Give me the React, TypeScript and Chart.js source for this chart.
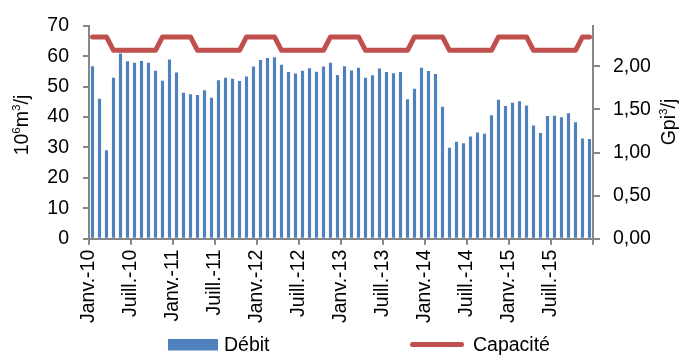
import { useEffect, useRef } from 'react';
import { Chart, registerables } from 'chart.js';

Chart.register(...registerables);

// Monthly data, Janv. 2010 – Déc. 2015 (10^6 m³/j)
const debit2010 = [56.7, 46.0, 29.1, 52.9, 60.9, 58.3, 57.8, 58.4, 57.8, 55.2, 51.9, 58.9];
const debit2011 = [54.6, 48.0, 47.5, 47.2, 48.8, 46.3, 52.1, 52.9, 52.6, 51.8, 53.3, 56.6];
const debit2012 = [58.7, 59.4, 59.6, 57.2, 54.8, 54.3, 55.2, 56.0, 54.9, 56.6, 57.8, 53.8];
const debit2013 = [56.7, 55.3, 56.2, 52.9, 53.7, 55.9, 54.8, 54.4, 54.8, 45.8, 49.3, 56.2];
const debit2014 = [55.1, 54.1, 43.4, 29.9, 31.9, 31.4, 33.6, 34.9, 34.5, 40.6, 45.7, 43.6];
const debit2015 = [44.7, 45.2, 43.8, 37.2, 34.7, 40.3, 40.4, 39.9, 41.2, 38.3, 32.9, 32.8];
const debit = [...debit2010, ...debit2011, ...debit2012, ...debit2013, ...debit2014, ...debit2015];

const capaciteAnnuelle = [66.3, 66.3, 66.3, 61.9, 61.9, 61.9, 61.9, 61.9, 61.9, 61.9, 66.3, 66.3];
const capacite = [
  ...capaciteAnnuelle, ...capaciteAnnuelle, ...capaciteAnnuelle,
  ...capaciteAnnuelle, ...capaciteAnnuelle, ...capaciteAnnuelle,
];

const tickLabels = [
  'Janv.-10', 'Juill.-10', 'Janv.-11', 'Juill.-11', 'Janv.-12', 'Juill.-12',
  'Janv.-13', 'Juill.-13', 'Janv.-14', 'Juill.-14', 'Janv.-15', 'Juill.-15',
];

const leftMax = 70;
const m3PerFt3 = 28.3168; // 10^6 m³ per Gpi³
const rightMax = leftMax / m3PerFt3;

const FONT_FAMILY = "'Liberation Sans', Arial, sans-serif";
const FONT_SIZE = 19.5;
const AXIS_GREY = '#878787';
const BLUE = '#4F81BD';
const RED = '#C0504D';

type Part = { t: string; sup?: boolean };

function drawRich(ctx: CanvasRenderingContext2D, parts: Part[], cx: number, cy: number) {
  const supSize = FONT_SIZE * 0.6;
  let total = 0;
  for (const p of parts) {
    ctx.font = `${p.sup ? supSize : FONT_SIZE}px ${FONT_FAMILY}`;
    total += ctx.measureText(p.t).width;
  }
  ctx.save();
  ctx.translate(cx, cy);
  ctx.rotate(-Math.PI / 2);
  ctx.textBaseline = 'alphabetic';
  ctx.textAlign = 'left';
  ctx.fillStyle = '#000';
  let x = -total / 2;
  for (const p of parts) {
    ctx.font = `${p.sup ? supSize : FONT_SIZE}px ${FONT_FAMILY}`;
    ctx.fillText(p.t, x, p.sup ? -FONT_SIZE * 0.42 : 0);
    x += ctx.measureText(p.t).width;
  }
  ctx.restore();
}

const decorPlugin = {
  id: 'decor',
  afterDraw(chart: any) {
    const ctx: CanvasRenderingContext2D = chart.ctx;
    // axis titles
    drawRich(ctx, [{ t: '10' }, { t: '6', sup: true }, { t: 'm' }, { t: '3', sup: true }, { t: '/j' }], 28, 125);
    drawRich(ctx, [{ t: 'Gpi' }, { t: '3', sup: true }, { t: '/j' }], 675, 122);

    // legend
    ctx.save();
    ctx.fillStyle = BLUE;
    ctx.fillRect(168, 339, 50, 11.5);
    ctx.strokeStyle = RED;
    ctx.lineWidth = 5;
    ctx.lineCap = 'round';
    ctx.beginPath();
    ctx.moveTo(412.5, 344.5);
    ctx.lineTo(461.5, 344.5);
    ctx.stroke();
    ctx.fillStyle = '#000';
    ctx.font = `${FONT_SIZE}px ${FONT_FAMILY}`;
    ctx.textAlign = 'left';
    ctx.textBaseline = 'alphabetic';
    ctx.fillText('Débit', 224, 351);
    ctx.fillText('Capacité', 473, 351);
    ctx.restore();
  },
};

export default function App() {
  const ref = useRef<HTMLCanvasElement | null>(null);

  useEffect(() => {
    document.body.style.margin = '0';
    if (!ref.current) return;
    const font = { family: FONT_FAMILY, size: FONT_SIZE };
    const chart = new Chart(ref.current, {
      type: 'bar',
      data: {
        datasets: [
          {
            type: 'line',
            label: 'Capacité',
            data: capacite.map((v, i) => ({ x: i + 0.5, y: v })),
            borderColor: RED,
            backgroundColor: RED,
            borderWidth: 5,
            borderCapStyle: 'round',
            borderJoinStyle: 'round',
            pointRadius: 0,
            tension: 0,
            yAxisID: 'y',
            order: 0,
          } as any,
          {
            type: 'bar',
            label: 'Débit',
            data: debit.map((v, i) => ({ x: i + 0.5, y: v })),
            backgroundColor: BLUE,
            borderWidth: 0,
            barPercentage: 0.45,
            categoryPercentage: 1,
            yAxisID: 'y',
            order: 1,
          } as any,
        ],
      },
      options: {
        responsive: false,
        animation: false,
        layout: { padding: { top: 14, bottom: 31, left: 0, right: 0 } },
        plugins: { legend: { display: false }, tooltip: { enabled: false } },
        scales: {
          x: {
            type: 'linear',
            min: 0,
            max: 72,
            offset: false,
            afterFit: (s: any) => { s.height = 88.3; },
            ticks: {
              stepSize: 6,
              autoSkip: false,
              minRotation: 90,
              maxRotation: 90,
              padding: 5,
              color: '#000',
              font,
              callback: (v: any) => {
                const idx = Math.round(Number(v) / 6);
                return idx < tickLabels.length ? tickLabels[idx] : '';
              },
            },
            grid: { drawOnChartArea: false, offset: false, tickLength: 6, color: AXIS_GREY, lineWidth: 2 },
            border: { color: AXIS_GREY, width: 2 },
          },
          y: {
            position: 'left',
            min: 0,
            max: leftMax,
            afterFit: (s: any) => { s.width = 89; },
            ticks: { stepSize: 10, padding: 14, color: '#000', font },
            grid: { drawOnChartArea: false, tickLength: 6, color: AXIS_GREY, lineWidth: 2 },
            border: { color: AXIS_GREY, width: 2 },
          },
          y1: {
            position: 'right',
            min: 0,
            max: rightMax,
            afterFit: (s: any) => { s.width = 92; },
            ticks: {
              stepSize: 0.5,
              includeBounds: false,
              padding: 13,
              color: '#000',
              font,
              callback: (v: any) => Number(v).toFixed(2).replace('.', ','),
            },
            grid: { drawOnChartArea: false, tickLength: 7, color: AXIS_GREY, lineWidth: 2 },
            border: { color: AXIS_GREY, width: 2 },
          },
        },
      } as any,
      plugins: [decorPlugin],
    });
    return () => chart.destroy();
  }, []);

  return (
    <div style={{ width: 685, height: 358 }}>
      <canvas ref={ref} width={685} height={358} style={{ display: 'block' }} />
    </div>
  );
}
